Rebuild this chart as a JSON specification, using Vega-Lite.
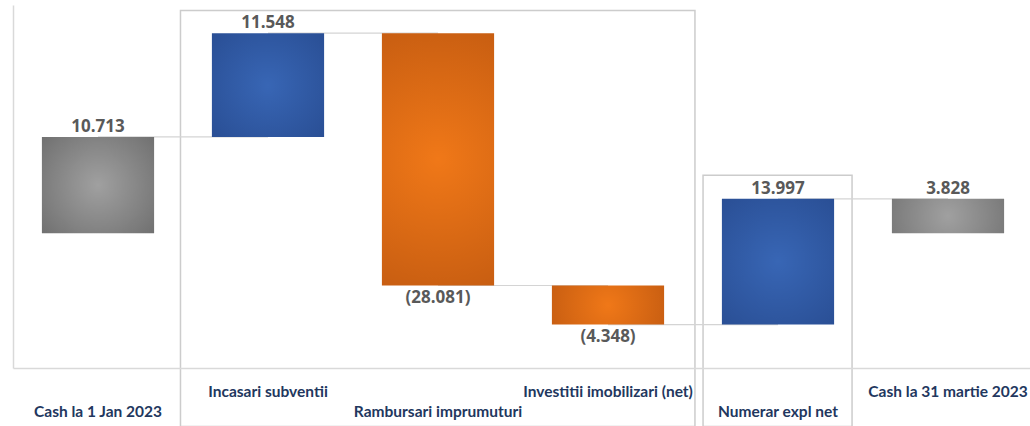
{
  "$schema": "https://vega.github.io/schema/vega-lite/v6.json",
  "width": 1020,
  "height": 363,
  "autosize": {"type": "none"},
  "padding": {"left": 13, "top": 5, "right": 0, "bottom": 58},
  "background": "white",
  "config": {"view": {"stroke": null}},
  "data": {
    "values": [
      {"cat": "Cash la 1 Jan 2023", "start": 0, "end": 10713, "type": "total", "label": "10.713", "next": "Incasari subventii"},
      {"cat": "Incasari subventii", "start": 10713, "end": 22261, "type": "up", "label": "11.548", "next": "Rambursari imprumuturi"},
      {"cat": "Rambursari imprumuturi", "start": 22261, "end": -5820, "type": "down", "label": "(28.081)", "next": "Investitii imobilizari (net)"},
      {"cat": "Investitii imobilizari (net)", "start": -5820, "end": -10168, "type": "down", "label": "(4.348)", "next": "Numerar expl net"},
      {"cat": "Numerar expl net", "start": -10168, "end": 3829, "type": "up", "label": "13.997", "next": "Cash la 31 martie 2023"},
      {"cat": "Cash la 31 martie 2023", "start": 0, "end": 3828, "type": "total", "label": "3.828", "next": null}
    ]
  },
  "encoding": {
    "x": {
      "field": "cat",
      "type": "nominal",
      "sort": null,
      "scale": {
        "domain": ["Cash la 1 Jan 2023", "Incasari subventii", "Rambursari imprumuturi", "Investitii imobilizari (net)", "Numerar expl net", "Cash la 31 martie 2023"],
        "paddingInner": 0.34,
        "paddingOuter": 0.17
      },
      "axis": {
        "title": null,
        "labelAngle": 0,
        "ticks": false,
        "domain": true,
        "domainColor": "#d9d9d9",
        "domainWidth": 1.5,
        "labelFont": "Lato",
        "labelFontSize": 15.5,
        "labelFontWeight": "bold",
        "labelColor": "#22375e",
        "labelBaseline": "top",
        "labelPadding": {
          "condition": {"test": "indexof(['Cash la 1 Jan 2023','Rambursari imprumuturi','Numerar expl net'], datum.value) >= 0", "value": 36},
          "value": 16
        }
      }
    }
  },
  "layer": [
    {
      "data": {"values": [{"group": "box"}]},
      "mark": {"type": "rect", "fillOpacity": 0, "stroke": "#cccccc", "strokeWidth": 1.5},
      "encoding": {
        "x": {"datum": "Incasari subventii", "bandPosition": -0.28},
        "x2": {"datum": "Investitii imobilizari (net)", "bandPosition": 1.275},
        "y": {"datum": 24800, "type": "quantitative"},
        "y2": {"datum": -21500}
      }
    },
    {
      "data": {"values": [{"group": "box"}]},
      "mark": {"type": "rect", "fillOpacity": 0, "stroke": "#cccccc", "strokeWidth": 1.5},
      "encoding": {
        "x": {"datum": "Numerar expl net", "bandPosition": -0.168},
        "x2": {"datum": "Numerar expl net", "bandPosition": 1.16},
        "y": {"datum": 6450, "type": "quantitative"},
        "y2": {"datum": -21500}
      }
    },
    {
      "transform": [{"filter": "datum.next != null"}],
      "mark": {"type": "rule", "color": "#d4d4d4", "strokeWidth": 1.2},
      "encoding": {
        "x2": {"field": "next"},
        "y": {"field": "end", "type": "quantitative"}
      }
    },
    {
      "mark": {"type": "bar"},
      "encoding": {
        "y": {
          "field": "start",
          "type": "quantitative",
          "scale": {"domain": [-15000, 25400], "nice": false, "zero": false},
          "axis": {"title": null, "labels": false, "ticks": false, "grid": false, "domain": true, "domainColor": "#d9d9d9", "domainWidth": 1.5}
        },
        "y2": {"field": "end"},
        "fill": {
          "condition": [
            {"test": "datum.type == 'total'", "value": {"gradient": "radial", "x1": 0.5, "y1": 0.5, "r1": 0, "x2": 0.5, "y2": 0.5, "r2": 0.75, "stops": [{"offset": 0, "color": "#a0a0a0"}, {"offset": 1, "color": "#6a6a6a"}]}},
            {"test": "datum.type == 'up'", "value": {"gradient": "radial", "x1": 0.5, "y1": 0.5, "r1": 0, "x2": 0.5, "y2": 0.5, "r2": 0.75, "stops": [{"offset": 0, "color": "#3866b5"}, {"offset": 1, "color": "#284c91"}]}}
          ],
          "value": {"gradient": "radial", "x1": 0.5, "y1": 0.5, "r1": 0, "x2": 0.5, "y2": 0.5, "r2": 0.75, "stops": [{"offset": 0, "color": "#f07818"}, {"offset": 1, "color": "#b9540f"}]}
        }
      }
    },
    {
      "transform": [{"filter": "datum.type != 'down'"}],
      "mark": {"type": "text", "baseline": "bottom", "dy": -1, "font": "Open Sans", "fontSize": 17, "fontWeight": "bold", "color": "#595959"},
      "encoding": {
        "y": {"field": "end", "type": "quantitative"},
        "text": {"field": "label"}
      }
    },
    {
      "transform": [{"filter": "datum.type == 'down'"}],
      "mark": {"type": "text", "baseline": "top", "dy": 4, "font": "Open Sans", "fontSize": 17, "fontWeight": "bold", "color": "#595959"},
      "encoding": {
        "y": {"field": "end", "type": "quantitative"},
        "text": {"field": "label"}
      }
    }
  ]
}
